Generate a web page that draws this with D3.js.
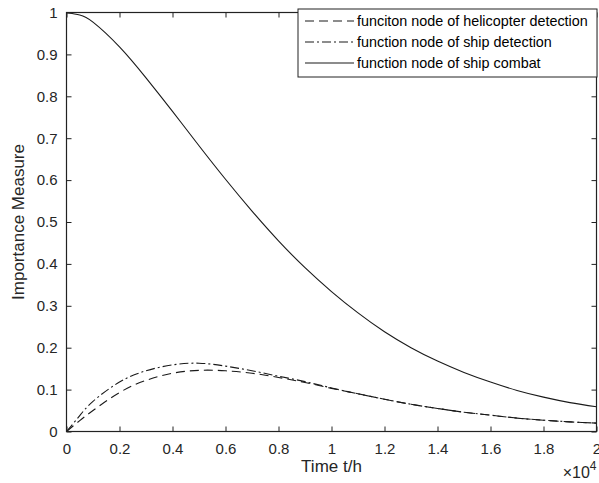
<!DOCTYPE html>
<html>
<head>
<meta charset="utf-8">
<script src="https://d3js.org/d3.v7.min.js"></script>
<style>
  body { margin: 0; background: #fff; }
  text { font-family: "Liberation Sans", Arial, sans-serif; }
</style>
</head>
<body>
<svg width="599" height="483"></svg>
<script>
// time in units of 10^4 h
var times = [0, 0.05, 0.1, 0.2, 0.3, 0.4, 0.5, 0.6, 0.7, 0.8, 0.9, 1.0,
             1.1, 1.2, 1.3, 1.4, 1.5, 1.6, 1.7, 1.8, 1.9, 2.0];
var heliDetect = [0, 0.026, 0.050, 0.093, 0.122, 0.139, 0.146, 0.145, 0.139, 0.129, 0.117, 0.103,
                  0.090, 0.077, 0.065, 0.055, 0.046, 0.039, 0.032, 0.027, 0.023, 0.020];
var shipDetect = [0, 0.038, 0.072, 0.118, 0.145, 0.159, 0.163, 0.156, 0.145, 0.132, 0.119, 0.104,
                  0.090, 0.077, 0.065, 0.055, 0.046, 0.039, 0.032, 0.027, 0.023, 0.020];
var shipCombat = [1.0, 0.994, 0.977, 0.918, 0.844, 0.764, 0.682, 0.602, 0.526, 0.455, 0.391, 0.334,
                  0.283, 0.238, 0.200, 0.168, 0.141, 0.118, 0.098, 0.082, 0.069, 0.059];
var legendLabels = ["funciton node of helicopter detection",
                    "function node of ship detection",
                    "function node of ship combat"];
var xTicks = [0, 0.2, 0.4, 0.6, 0.8, 1, 1.2, 1.4, 1.6, 1.8, 2];
var yTicks = [0, 0.1, 0.2, 0.3, 0.4, 0.5, 0.6, 0.7, 0.8, 0.9, 1];

var svg = d3.select("svg"),
    margin = {top: 12.5, right: 2.5, bottom: 51.5, left: 66.5},
    width = +svg.attr("width") - margin.left - margin.right,
    height = +svg.attr("height") - margin.top - margin.bottom,
    g = svg.append("g").attr("transform", "translate(" + margin.left + "," + margin.top + ")");

var x = d3.scaleLinear().domain([0, 2]).range([0, width]);
var y = d3.scaleLinear().domain([0, 1]).range([height, 0]);

var series = [
  {name: legendLabels[0], values: heliDetect, dash: "9,5"},
  {name: legendLabels[1], values: shipDetect, dash: "9,3,2,3"},
  {name: legendLabels[2], values: shipCombat, dash: null}
];

var line = d3.line()
    .x(function(d) { return x(d[0]); })
    .y(function(d) { return y(d[1]); })
    .curve(d3.curveNatural);

series.forEach(function(s) {
  g.append("path")
      .datum(times.map(function(t, i) { return [t, s.values[i]]; }))
      .attr("fill", "none")
      .attr("stroke", "#1a1a1a")
      .attr("stroke-width", 1.1)
      .attr("stroke-dasharray", s.dash)
      .attr("d", line);
});

function styleAxis(sel) {
  sel.select(".domain").remove();
  sel.selectAll("line").attr("stroke", "#222");
  sel.selectAll("text").attr("fill", "#262626").style("font-size", "15px");
}

// axes with inward ticks on all four sides
g.append("g")
    .attr("transform", "translate(0," + height + ")")
    .call(d3.axisBottom(x).tickValues(xTicks).tickSize(-5).tickPadding(12)
      .tickFormat(function(d) { return d3.format("~g")(d); }))
    .call(styleAxis);
g.append("g")
    .call(d3.axisTop(x).tickValues(xTicks).tickSize(-5).tickFormat(""))
    .call(styleAxis);
g.append("g")
    .call(d3.axisLeft(y).tickValues(yTicks).tickSize(-5).tickPadding(9)
      .tickFormat(function(d) { return d3.format("~g")(d); }))
    .call(styleAxis);
g.append("g")
    .attr("transform", "translate(" + width + ",0)")
    .call(d3.axisRight(y).tickValues(yTicks).tickSize(-5).tickFormat(""))
    .call(styleAxis);

g.append("rect")
    .attr("width", width).attr("height", height)
    .attr("fill", "none").attr("stroke", "#222").attr("stroke-width", 1.2);

// axis labels
g.append("text")
    .attr("x", width / 2).attr("y", height + 40)
    .attr("text-anchor", "middle")
    .attr("fill", "#262626").style("font-size", "17px")
    .text("Time t/h");

g.append("text")
    .attr("transform", "rotate(-90)")
    .attr("x", -height / 2).attr("y", -43)
    .attr("text-anchor", "middle")
    .attr("fill", "#262626").style("font-size", "17px")
    .text("Importance Measure");

var exp = g.append("text")
    .attr("x", width).attr("y", height + 46)
    .attr("text-anchor", "end")
    .attr("fill", "#262626").style("font-size", "16px");
exp.append("tspan").text("\u00d710");
exp.append("tspan").attr("dy", -8).style("font-size", "12px").text("4");

// legend
var lg = svg.append("g").attr("transform", "translate(298,9)");
lg.append("rect")
    .attr("width", 299).attr("height", 68)
    .attr("fill", "#fff").attr("stroke", "#222").attr("stroke-width", 1);
var legendTexts = [];
series.forEach(function(s, i) {
  var yy = 12 + i * 21;
  lg.append("line")
      .attr("x1", 7).attr("x2", 56).attr("y1", yy).attr("y2", yy)
      .attr("stroke", "#1a1a1a").attr("stroke-width", 1.1)
      .attr("stroke-dasharray", s.dash);
  legendTexts.push(lg.append("text")
      .attr("x", 59).attr("y", yy).attr("dy", "0.35em")
      .attr("fill", "#000").style("font-size", "14px")
      .text(s.name));
});
// size the legend font so the longest entry spans about 231px, as in the original
var fs = 14 * 231 / legendTexts[0].node().getComputedTextLength();
legendTexts.forEach(function(t) { t.style("font-size", fs + "px"); });
</script>
</body>
</html>
